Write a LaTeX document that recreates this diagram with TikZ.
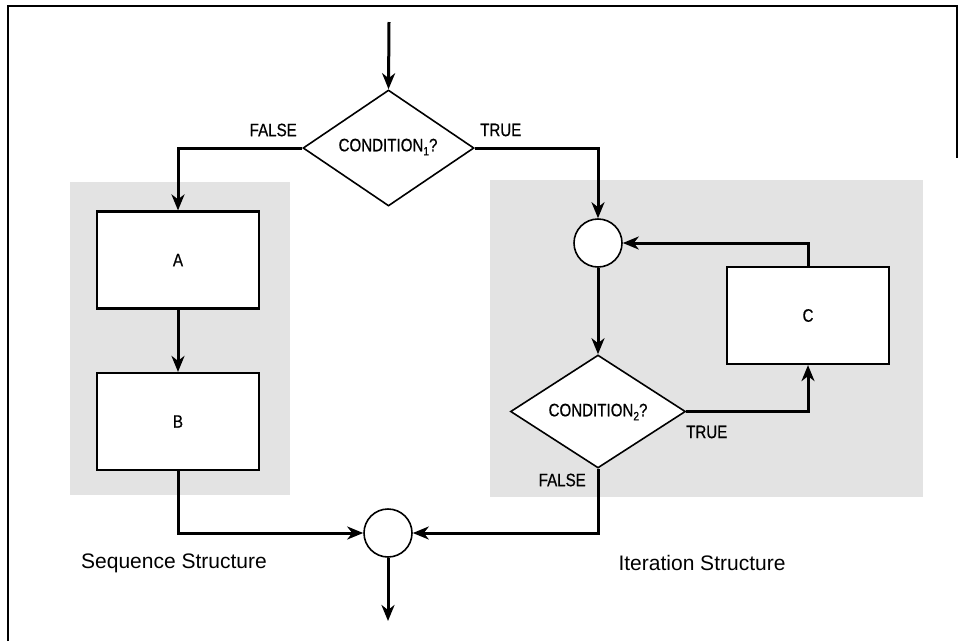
\documentclass[tikz,border=0pt]{standalone}
\usepackage{fontspec}
\setmainfont{Liberation Sans}
\newfontfamily\cond[FakeStretch=0.84,FakeBold=0.6]{Liberation Sans}
\usetikzlibrary{arrows.meta,shapes.geometric,calc}
\begin{document}
\begin{tikzpicture}[x=1pt,y=-1pt,
  conn/.style={line width=3pt,-{Stealth[length=16pt,width=13pt,inset=5pt]}},
  procbox/.style={draw,line width=2.2pt,fill=white,rectangle,minimum width=162pt,minimum height=97pt,inner sep=0pt},
  decision/.style={draw,line width=1.6pt,fill=white,diamond,inner sep=0pt},
  junction/.style={draw,line width=1.6pt,fill=white,circle,minimum size=48pt,inner sep=0pt},
  flowtxt/.style={font=\cond\fontsize{18}{18}\selectfont,inner sep=0pt},
  tagtxt/.style={font=\cond\fontsize{18}{18}\selectfont,inner sep=0pt},
  captxt/.style={font=\fontsize{21}{21}\selectfont,inner sep=0pt},
  shade/.style={fill=black!11,draw=none}
]
\useasboundingbox (0,0) rectangle (963,641);
% frame
\draw[line width=1.8pt] (8,641) -- (8,6) -- (957,6) -- (957,158);
% shaded areas
\fill[shade] (70,182) rectangle (290,495);
\fill[shade] (490,180) rectangle (923,497);
% nodes
\coordinate (start) at (389,22);
\node[decision,minimum width=171pt,minimum height=116pt] (d1) at (388.5,148) {};
\node[flowtxt] (d1t) at (388,147) {CONDITION\raisebox{-4pt}{\fontsize{12}{12}\selectfont 1}?};
\node[procbox] (A) at (178,260) {};
\node[flowtxt] (At) at (A.center) {A};
\node[procbox] (B) at (178,421.5) {};
\node[flowtxt] (Bt) at (B.center) {B};
\node[junction] (j) at (598,243) {};
\node[decision,minimum width=175pt,minimum height=113pt] (d2) at (598,411.5) {};
\node[flowtxt] (d2t) at (598,412) {CONDITION\raisebox{-4pt}{\fontsize{12}{12}\selectfont 2}?};
\node[procbox] (C) at (808,315.5) {};
\node[flowtxt] (Ct) at (C.center) {C};
\node[junction] (m) at (388,533) {};
\coordinate (end) at (388,621);
% labels
\node[tagtxt,anchor=east] (f1) at (297,130) {FALSE};
\node[tagtxt,anchor=west] (t1) at (480,130) {TRUE};
\node[tagtxt,anchor=west] (t2) at (686,432) {TRUE};
\node[tagtxt,anchor=east] (f2) at (586,480) {FALSE};
\node[captxt] (seq) at (174,563) {Sequence Structure};
\node[captxt] (it) at (702,563) {Iteration Structure};
% connectors
\draw[conn] (start) -- (d1.north);
\draw[conn] (d1.west) -| (A.north);
\draw[conn] (A.south) -- (B.north);
\draw[conn] (B.south) |- (m.west);
\draw[conn] (m.south) -- (end);
\draw[conn] (d1.east) -| (j.north);
\draw[conn] (j.south) -- (d2.north);
\draw[conn] (d2.east) -| (C.south);
\draw[conn] (C.north) |- (j.east);
\draw[conn] (d2.south) |- (m.east);
\end{tikzpicture}
\end{document}
